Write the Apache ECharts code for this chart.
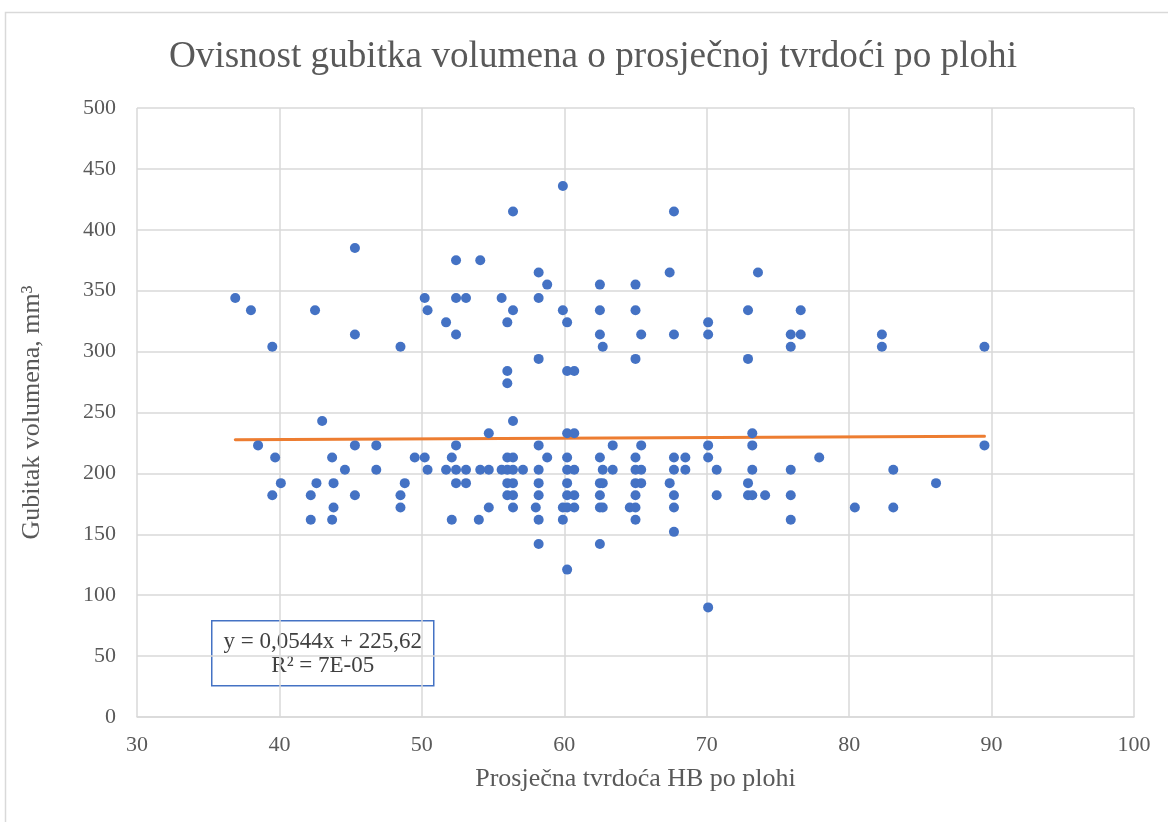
<!DOCTYPE html>
<html>
<head>
<meta charset="utf-8">
<script src="https://cdn.jsdelivr.net/npm/echarts@6/dist/echarts.min.js"></script>
<style>
html,body{margin:0;padding:0;background:#fff;}
#chart{width:1168px;height:822px;}
</style>
</head>
<body>
<div id="chart"></div>
<script>
// Hardness HB (x) and volume loss mm³ (y)
const hardness = [
  36.9,38.0,42.5,45.3,45.3,39.5,48.5,43.0,
  38.5,45.3,46.8,39.7,43.7,49.5,44.6,46.8,
  40.1,42.6,43.8,48.8,39.5,42.2,45.3,48.5,
  43.8,48.5,42.2,43.7,
  59.9,56.4,52.4,54.1,58.2,58.8,
  50.2,52.4,53.1,55.6,58.2,
  50.4,56.4,59.9,
  51.7,56.0,60.2,
  52.4,58.2,56.0,60.2,60.7,56.0,
  56.4,54.7,60.2,60.7,
  52.4,58.2,
  50.2,52.1,56.0,56.4,58.8,60.2,
  50.4,51.7,52.4,53.1,54.1,54.7,55.6,56.0,56.4,57.1,58.2,60.2,60.7,
  52.4,53.1,56.0,56.4,58.2,60.2,
  56.0,56.4,58.2,60.2,60.7,
  54.7,56.4,58.0,59.9,60.2,60.7,
  52.1,54.0,58.2,59.9,
  58.2,60.2,
  67.7,67.4,62.5,65.0,62.5,65.0,70.1,
  62.5,65.4,67.7,70.1,62.7,65.0,
  63.4,65.4,70.1,
  62.5,65.0,67.7,68.5,70.1,
  62.7,63.4,65.0,65.4,67.7,68.5,70.7,
  62.5,62.7,65.0,65.4,67.4,
  62.5,65.0,67.7,70.7,
  62.5,62.7,64.6,65.0,67.7,
  65.0,67.7,62.5,70.1,
  73.6,72.9,76.6,75.9,76.6,82.3,75.9,82.3,89.5,72.9,
  73.2,73.2,89.5,77.9,73.2,75.9,83.1,72.9,86.1,
  72.9,73.2,74.1,75.9,80.4,83.1,75.9
];
const volumeLoss = [
  344,334,334,385,314,304,304,243,
  223,223,223,213,213,213,203,203,
  192,192,192,192,182,182,182,182,
  172,172,162,162,
  436,415,375,375,365,355,
  344,344,344,344,344,
  334,334,334,
  324,324,324,
  314,294,284,284,284,274,
  243,233,233,233,
  223,223,
  213,213,213,213,213,213,
  203,203,203,203,203,203,203,203,203,203,203,203,203,
  192,192,192,192,192,192,
  182,182,182,182,182,
  172,172,172,172,172,172,
  162,162,162,162,
  142,121,
  415,365,355,355,334,334,324,
  314,314,314,314,304,294,
  223,223,223,
  213,213,213,213,213,
  203,203,203,203,203,203,203,
  192,192,192,192,192,
  182,182,182,182,
  172,172,172,172,172,
  162,152,142,90,
  365,334,334,314,314,314,304,304,304,294,
  233,223,223,213,203,203,203,192,192,
  182,182,182,182,172,172,162
];
// Linear trend line end points
const trendX = [36.9, 89.5];
const trendY = [227.6, 230.5];

const xTicks = [30,40,50,60,70,80,90,100];
const yTicks = [0,50,100,150,200,250,300,350,400,450,500];

const titleText = 'Ovisnost gubitka volumena o prosječnoj tvrdoći po plohi';
const xName = 'Prosječna tvrdoća HB po plohi';
const yName = 'Gubitak volumena, mm³';
const eqLine1 = 'y = 0,0544x + 225,62';
const eqLine2 = 'R² = 7E-05';

const serif = '"Liberation Serif", "Times New Roman", serif';
const points = hardness.map((x, i) => [x, volumeLoss[i]]);
const trend = trendX.map((x, i) => [x, trendY[i]]);

const chart = echarts.init(document.getElementById('chart'), null, {renderer: 'canvas'});
chart.setOption({
  backgroundColor: '#ffffff',
  animation: false,
  title: {
    text: titleText,
    left: 164,
    top: 34,
    textStyle: {fontFamily: serif, fontSize: 37.2, fontWeight: 'normal', color: '#595959'}
  },
  grid: {left: 137, right: 34, top: 108, bottom: 105, containLabel: false},
  xAxis: {
    type: 'value', min: xTicks[0], max: xTicks[xTicks.length-1], interval: 10,
    name: xName, nameLocation: 'middle', nameGap: 49,
    nameTextStyle: {fontFamily: serif, fontSize: 26, color: '#595959'},
    axisLine: {show: true, lineStyle: {color: '#d9d9d9', width: 1.5}},
    axisTick: {show: false},
    axisLabel: {fontFamily: serif, fontSize: 22, color: '#595959', margin: 17},
    splitLine: {show: true, lineStyle: {color: '#d9d9d9', width: 1.5}}
  },
  yAxis: {
    type: 'value', min: yTicks[0], max: yTicks[yTicks.length-1], interval: 50,
    name: yName, nameLocation: 'middle', nameGap: 92, nameRotate: 90,
    nameTextStyle: {fontFamily: serif, fontSize: 26, color: '#595959'},
    axisLine: {show: false},
    axisTick: {show: false},
    axisLabel: {fontFamily: serif, fontSize: 22, color: '#595959', margin: 21},
    splitLine: {show: true, lineStyle: {color: '#d9d9d9', width: 1.5}}
  },
  series: [
    {
      type: 'scatter', data: points, symbol: 'circle', symbolSize: 10,
      itemStyle: {color: '#4472C4', opacity: 1}, z: 3
    },
    {
      type: 'line', data: trend, symbol: 'none', z: 2,
      lineStyle: {color: '#ED7D31', width: 3, cap: 'round'}
    }
  ],
  graphic: [
    {
      type: 'rect', left: 3, top: 10, z: -10, silent: true,
      shape: {width: 1200, height: 900},
      style: {fill: 'none', stroke: '#d9d9d9', lineWidth: 1.5}
    },
    {
      type: 'group', left: 211, top: 620, z: 10,
      children: [
        {type: 'rect', shape: {x: 0, y: 0, width: 222, height: 65},
         style: {fill: '#ffffff', stroke: '#4472C4', lineWidth: 1.5}},
        {type: 'text', x: 111, y: 21,
         style: {text: eqLine1, fontFamily: serif, fontSize: 23, fill: '#404040', align: 'center', verticalAlign: 'middle'}},
        {type: 'text', x: 111, y: 45,
         style: {text: eqLine2, fontFamily: serif, fontSize: 23, fill: '#404040', align: 'center', verticalAlign: 'middle'}}
      ]
    }
  ]
});
</script>
</body>
</html>
